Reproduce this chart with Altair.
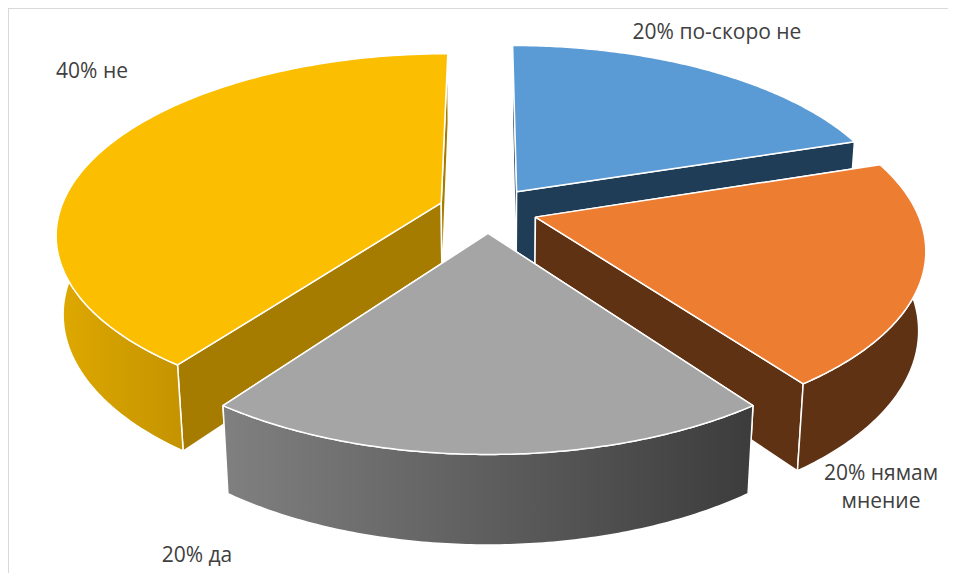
import numpy as np
import pandas as pd
import altair as alt

categories = ["по-скоро не", "нямам мнение", "да", "не"]
shares = [20, 20, 20, 40]
labels = [["20% по-скоро не"], ["20% нямам", "мнение"], ["20% да"], ["40% не"]]
top_colors = ["#5B9BD5", "#ED7D31", "#A5A5A5", "#FBBE00"]
wall_colors = ["#1F3D57", "#5F3214", "#636363", "#A67C00"]
wall_grad = [None, None, ("#808080", "#3C3C3C"), ("#DFA900", "#C49300")]
label_pos = [(717, 33), (881, 474), (197, 556), (92, 72)]

LEFT, TOP, RIGHT, BOTTOM = 8, 8, 948, 573
X0, Y0, A, B, C, K, D, E = 488, 210, 381, 176, 79, 0.165, 0.016, 0.13


def project(u, v, z):
    w = 1 + K * v - D * z
    return X0 + A * u / w, Y0 - (B * v + C * z) / w


def poly(pts):
    return pd.DataFrame({"x": [p[0] for p in pts], "y": [p[1] for p in pts], "o": range(len(pts))})


x_scale = alt.Scale(domain=[LEFT, RIGHT], range=[0, RIGHT - LEFT])
y_scale = alt.Scale(domain=[TOP, BOTTOM], range=[0, BOTTOM - TOP])


def shape(pts, fill):
    return alt.Chart(poly(pts)).mark_line(
        fill=fill, stroke="#FFFFFF", strokeWidth=1.5, strokeJoin="round", clip=False
    ).encode(
        x=alt.X("x:Q", scale=x_scale, axis=None),
        y=alt.Y("y:Q", scale=y_scale, axis=None),
        order="o:Q",
    )


total = sum(shares)
edges = np.cumsum([0] + shares) / total * 2 * np.pi
layers = [
    alt.Chart(pd.DataFrame({"a": [0]})).mark_rule(color="#D9D9D9", strokeWidth=2).encode(
        x=alt.value(0), x2=alt.value(RIGHT - LEFT), y=alt.value(0)
    ),
    alt.Chart(pd.DataFrame({"a": [0]})).mark_rule(color="#D9D9D9", strokeWidth=2).encode(
        y=alt.value(0), y2=alt.value(BOTTOM - TOP), x=alt.value(0)
    ),
]
for i in [0, 3, 1, 2]:
    a0, a1 = edges[i], edges[i + 1]
    mid = (a0 + a1) / 2
    du, dv = E * np.sin(mid), E * np.cos(mid)
    th = np.linspace(a0, a1, 120)
    rim = [(du + np.sin(t), dv + np.cos(t)) for t in th]
    top = [project(u, v, 0) for u, v in rim]
    bot = [project(u, v, -1) for u, v in rim]
    vt, vb = project(du, dv, 0), project(du, dv, -1)
    wall = wall_colors[i]
    outer = wall
    if wall_grad[i]:
        c0, c1 = wall_grad[i]
        outer = alt.Gradient(
            gradient="linear", x1=0, x2=1, y1=0, y2=0,
            stops=[alt.GradientStop(color=c0, offset=0), alt.GradientStop(color=c1, offset=1)],
        )
    layers.append(shape([vt, top[0], bot[0], vb, vt], wall))
    layers.append(shape([vt, top[-1], bot[-1], vb, vt], wall))
    front = [k for k, t in enumerate(th) if np.cos(t) < 0.05]
    if front:
        ft = [top[k] for k in front]
        fb = [bot[k] for k in front]
        layers.append(shape(ft + fb[::-1] + [ft[0]], outer))
    layers.append(shape([vt] + top + [vt], top_colors[i]))

txt = []
for lines, (lx, ly) in zip(labels, label_pos):
    for j, line in enumerate(lines):
        txt.append(
            alt.Chart(pd.DataFrame({"t": [line]})).mark_text(
                font="Open Sans", fontSize=21, color="#404040", align="center", baseline="middle"
            ).encode(x=alt.value(lx - LEFT), y=alt.value(ly + 28 * j - TOP), text="t:N")
        )

chart = alt.layer(*layers, *txt).properties(
    width=RIGHT - LEFT, height=BOTTOM - TOP, padding=0, autosize=alt.AutoSizeParams(type="none")
).configure_view(stroke="transparent").configure(background="#FFFFFF")
chart.save("out.html", embed_options={"renderer": "svg", "actions": False})
